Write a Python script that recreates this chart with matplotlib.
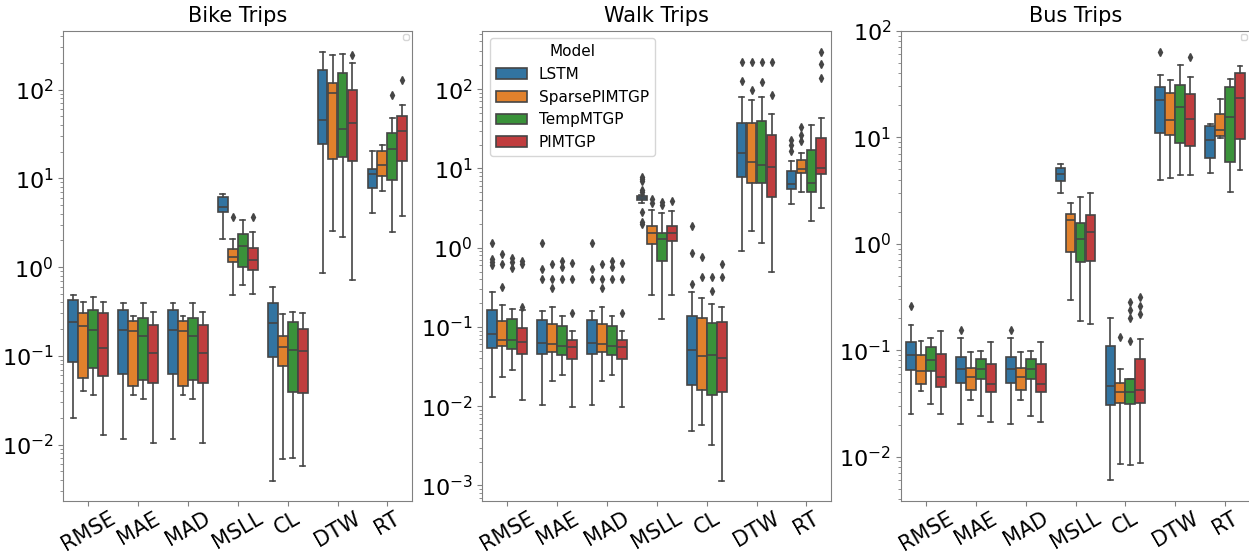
import matplotlib.pyplot as plt
from matplotlib.patches import Patch

metrics = ['RMSE', 'MAE', 'MAD', 'MSLL', 'CL', 'DTW', 'RT']
models = ['LSTM', 'SparsePIMTGP', 'TempMTGP', 'PIMTGP']
colors = ['#3274a1', '#e1812c', '#3a923a', '#c03d3e']

# box stats: one row per metric, one value per model
# Bike trips
bike_lo = [[0.020, 0.040, 0.036, 0.0129], [0.0114, 0.036, 0.033, 0.0105], [0.0114, 0.036, 0.033, 0.0105],
           [2.08, 0.49, 0.63, 0.50], [0.00386, 0.0068, 0.0070, 0.0057], [0.86, 2.56, 2.17, 0.71],
           [4.05, 7.2, 2.47, 3.73]]
bike_q1 = [[0.086, 0.056, 0.073, 0.059], [0.062, 0.0456, 0.054, 0.049], [0.062, 0.0456, 0.054, 0.049],
           [4.16, 1.14, 1.0, 0.92], [0.096, 0.076, 0.039, 0.038], [24.5, 16.7, 17.3, 15.9],
           [7.7, 10.7, 9.7, 15.6]]
bike_med = [[0.24, 0.215, 0.197, 0.122], [0.193, 0.19, 0.167, 0.107], [0.193, 0.19, 0.167, 0.107],
            [4.8, 1.31, 1.73, 1.21], [0.232, 0.127, 0.115, 0.113], [45, 92, 36, 42],
            [11.2, 14.0, 21.7, 34]]
bike_q3 = [[0.43, 0.30, 0.33, 0.30], [0.325, 0.247, 0.27, 0.223], [0.325, 0.247, 0.27, 0.223],
           [6.2, 1.58, 2.34, 1.65], [0.39, 0.168, 0.243, 0.199], [167, 118, 155, 98],
           [12.9, 20.4, 32.5, 50]]
bike_hi = [[0.49, 0.40, 0.456, 0.40], [0.39, 0.278, 0.39, 0.31], [0.39, 0.278, 0.39, 0.31],
           [6.7, 2.06, 3.43, 2.49], [0.59, 0.297, 0.313, 0.302], [263, 247, 254, 200],
           [20.2, 23.8, 48, 67]]
bike_out = [[[], [], [], []], [[], [], [], []], [[], [], [], []],
            [[], [3.7], [], [3.7]], [[], [], [], []], [[], [], [], [249]],
            [[], [], [87], [130]]]

# Walk trips
walk_lo = [[0.013, 0.0236, 0.029, 0.0121], [0.0104, 0.021, 0.0244, 0.0098], [0.0104, 0.021, 0.0244, 0.0098],
           [3.7, 0.25, 0.126, 0.25], [0.0049, 0.00587, 0.0032, 0.00114], [0.90, 1.63, 1.14, 0.49],
           [3.6, 5.0, 2.15, 3.18]]
walk_q1 = [[0.054, 0.057, 0.053, 0.046], [0.0455, 0.048, 0.044, 0.039], [0.0455, 0.048, 0.044, 0.039],
           [3.94, 1.12, 0.67, 1.21], [0.0183, 0.016, 0.0137, 0.0152], [7.8, 6.5, 6.6, 4.4],
           [5.47, 8.7, 5.0, 8.4]]
walk_med = [[0.082, 0.068, 0.068, 0.065], [0.063, 0.06, 0.057, 0.056], [0.063, 0.06, 0.057, 0.056],
            [4.19, 1.51, 1.27, 1.55], [0.051, 0.043, 0.044, 0.04], [15.5, 12.0, 10.9, 10.3],
            [6.3, 9.7, 6.6, 10.1]]
walk_q3 = [[0.163, 0.118, 0.125, 0.097], [0.121, 0.109, 0.103, 0.068], [0.121, 0.109, 0.103, 0.068],
           [4.5, 1.89, 1.51, 1.89], [0.139, 0.13, 0.112, 0.114], [37.8, 37, 39.8, 26.7],
           [9.2, 12.6, 17.2, 23.9]]
walk_hi = [[0.278, 0.187, 0.17, 0.163], [0.158, 0.18, 0.137, 0.090], [0.158, 0.18, 0.137, 0.090],
           [4.6, 2.99, 2.73, 2.87], [0.273, 0.234, 0.196, 0.18], [79, 72, 79, 49],
           [12.3, 15.7, 34.8, 43.6]]
walk_out = [[[1.15, 0.72, 0.66, 0.6], [0.84, 0.62, 0.318], [0.735, 0.65, 0.56], [0.67, 0.63, 0.18]],
            [[1.15, 0.54, 0.40], [0.62, 0.40, 0.31], [0.685, 0.575, 0.40], [0.64, 0.40, 0.148]],
            [[1.15, 0.54, 0.40], [0.62, 0.40, 0.31], [0.685, 0.575, 0.40], [0.64, 0.40, 0.148]],
            [[7.7, 7.3, 6.85, 5.4, 5.0, 2.78, 2.1, 1.96], [4.1, 3.7], [3.78, 3.41], [3.9]],
            [[1.87, 0.86, 0.352], [0.76, 0.43], [0.43, 0.284], [0.63, 0.43]],
            [[222, 126], [222, 98], [222, 123], [222, 84]],
            [[22.7, 20, 16.7], [32.8, 26.4, 22.2], [], [293, 207, 137]]]

# Bus trips
bus_lo = [[0.0253, 0.0415, 0.031, 0.0249], [0.0201, 0.0343, 0.024, 0.0212], [0.0201, 0.0343, 0.024, 0.0212],
          [2.99, 0.294, 0.186, 0.176], [0.006, 0.0085, 0.0084, 0.0087], [3.97, 4.1, 4.38, 4.4],
          [4.6, 9.8, 3.06, 4.9]]
bus_q1 = [[0.0655, 0.0476, 0.063, 0.0448], [0.049, 0.0425, 0.054, 0.0406], [0.049, 0.0425, 0.054, 0.0406],
          [3.9, 0.84, 0.67, 0.68], [0.0306, 0.0318, 0.031, 0.0318], [10.9, 10.5, 8.75, 8.2],
          [6.36, 10.2, 5.8, 9.6]]
bus_med = [[0.090, 0.0636, 0.081, 0.056], [0.0665, 0.0554, 0.0665, 0.0483], [0.0665, 0.0554, 0.0665, 0.0483],
           [4.55, 1.65, 1.11, 1.28], [0.0458, 0.04, 0.04, 0.042], [22.1, 14.4, 19.3, 14.8],
           [9.4, 11.6, 15.4, 23.4]]
bus_q3 = [[0.12, 0.090, 0.106, 0.092], [0.087, 0.068, 0.082, 0.0735], [0.087, 0.068, 0.082, 0.0735],
          [5.14, 1.91, 1.57, 1.85], [0.109, 0.049, 0.053, 0.082], [29.4, 25.8, 30.7, 25.2],
          [12.7, 16.6, 29.4, 40]]
bus_hi = [[0.172, 0.122, 0.13, 0.151], [0.13, 0.097, 0.099, 0.119], [0.13, 0.097, 0.099, 0.119],
          [5.6, 2.4, 2.73, 3.02], [0.202, 0.067, 0.053, 0.128], [38.6, 34.2, 47.8, 36.9],
          [13.3, 22.8, 35, 47]]
bus_out = [[[0.258], [], [], []], [[0.154], [], [], []], [[0.154], [], [], []],
           [[], [], [], []], [[], [0.132], [0.285, 0.239, 0.2, 0.123], [0.312, 0.258, 0.217]],
           [[63], [], [], [56.5]], [[], [], [], []]]

gray = '#454545'
lw = 1.2


def draw_panel(ax, lo, q1, med, q3, hi, out, title, ylim):
    ax.set_yscale('log')
    for j in range(len(models)):
        stats = []
        pos = []
        for i in range(len(metrics)):
            stats.append(dict(whislo=lo[i][j], q1=q1[i][j], med=med[i][j],
                              q3=q3[i][j], whishi=hi[i][j], fliers=out[i][j]))
            pos.append(i + (j - 1.5) * 0.2)
        ax.bxp(stats, positions=pos, widths=0.196, patch_artist=True, manage_ticks=False,
               boxprops=dict(facecolor=colors[j], edgecolor=gray, linewidth=lw),
               medianprops=dict(color=gray, linewidth=lw),
               whiskerprops=dict(color=gray, linewidth=lw),
               capprops=dict(color=gray, linewidth=lw),
               flierprops=dict(marker='d', markerfacecolor=gray, markeredgecolor=gray,
                               markersize=4))
    ax.set_xlim(-0.5, len(metrics) - 0.5)
    ax.set_ylim(ylim)
    ax.set_xticks(range(len(metrics)))
    ax.set_xticklabels(metrics, rotation=30, fontsize=15)
    ax.tick_params(axis='x', pad=1.5)
    ax.tick_params(axis='y', labelsize=16)
    ax.tick_params(which='both', color='#808080')
    for s in ax.spines.values():
        s.set_color('#808080')
    ax.set_title(title, fontsize=15)


fig = plt.figure(figsize=(12.49, 5.53), dpi=100)
ax1 = fig.add_axes([0.0507, 0.0935, 0.2794, 0.851])
ax2 = fig.add_axes([0.3862, 0.0935, 0.2794, 0.851])
ax3 = fig.add_axes([0.7214, 0.0935, 0.2794, 0.851])

draw_panel(ax1, bike_lo, bike_q1, bike_med, bike_q3, bike_hi, bike_out, 'Bike Trips', (10**-2.64, 10**2.665))
draw_panel(ax2, walk_lo, walk_q1, walk_med, walk_q3, walk_hi, walk_out, 'Walk Trips', (10**-3.2, 10**2.737))
draw_panel(ax3, bus_lo, bus_q1, bus_med, bus_q3, bus_hi, bus_out, 'Bus Trips', (10**-2.42, 10**2.0))

# empty legends left over on the bike and bus panels
ax1.legend(handles=[], loc='upper right', fontsize=5)
ax3.legend(handles=[], loc='upper right', fontsize=5)

handles = [Patch(facecolor=c, edgecolor=gray, linewidth=lw, label=m) for c, m in zip(colors, models)]
ax2.legend(handles=handles, title='Model', loc='upper left', fontsize=11, title_fontsize=11)

plt.savefig('out.png', dpi=100)
